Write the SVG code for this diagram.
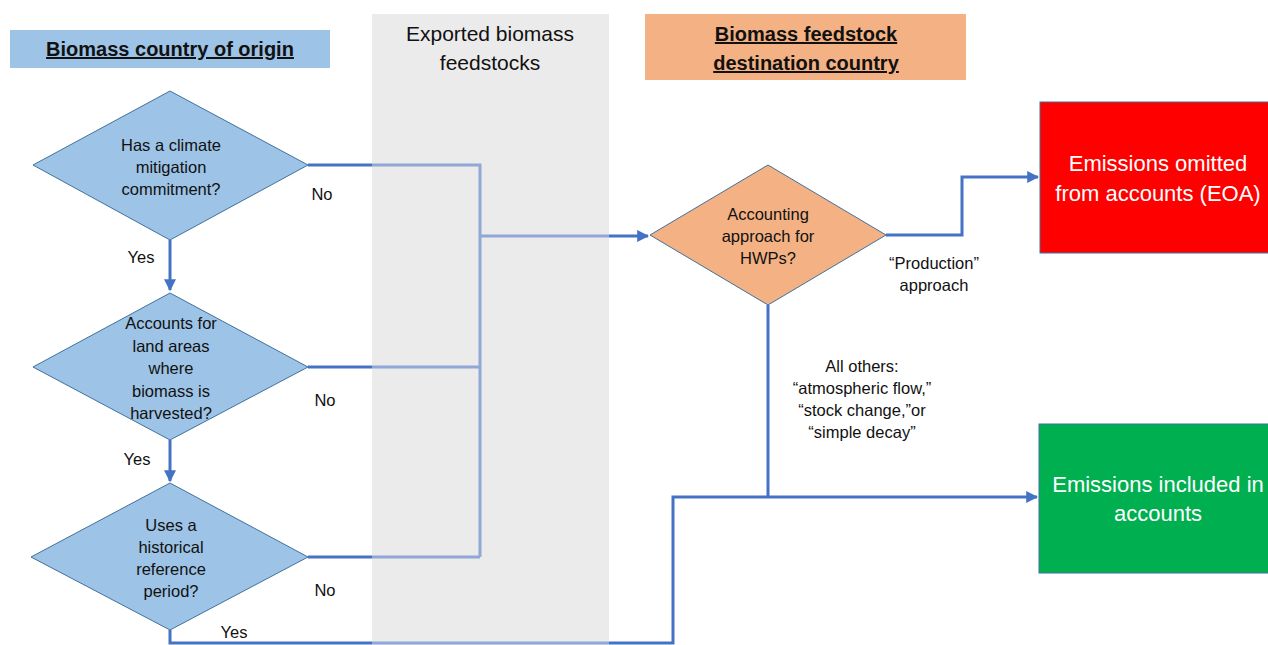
<svg xmlns="http://www.w3.org/2000/svg" width="1268" height="645" viewBox="0 0 1268 645">
<style>
text{font-family:"Liberation Sans",Arial,sans-serif;fill:#111;text-anchor:middle}
.hd{font-size:20px;font-weight:bold;text-decoration:underline}
.band{font-size:21px}
.q{font-size:16.5px}
.lbl{font-size:16.5px}
.box{font-size:22px;fill:#fff}
.dia{fill:#9DC3E6;stroke:#41719C;stroke-width:1}
.dia2{fill:#F4B183;stroke:#41719C;stroke-width:1}
.conn{fill:none;stroke:#4472C4;stroke-width:3}
</style>
<defs>
<marker id="ah" viewBox="0 0 10 10" refX="9" refY="5" markerWidth="4" markerHeight="4" orient="auto" markerUnits="strokeWidth">
<path d="M0,0 L10,5 L0,10 z" fill="#4472C4"/>
</marker>
</defs>
<rect width="1268" height="645" fill="#fff"/>
<rect id="band-bg" x="372" y="14" width="237" height="631" fill="#EBEBEB"/>
<g id="connectors">
<path class="conn" d="M308,165 H480 V557"/>
<path class="conn" d="M308,367 H480"/>
<path class="conn" d="M308,557 H480"/>
<path class="conn" d="M480,236 H648" marker-end="url(#ah)"/>
<path class="conn" d="M170,240 V290" marker-end="url(#ah)"/>
<path class="conn" d="M170,440 V481" marker-end="url(#ah)"/>
<path class="conn" d="M170,630 V643 H673 V497 H1037" marker-end="url(#ah)"/>
<path class="conn" d="M886,235 H962 V177 H1038" marker-end="url(#ah)"/>
<path class="conn" d="M768,305 V497"/>
</g>
<rect id="band-overlay" x="372" y="14" width="237" height="631" fill="#EBEBEB" fill-opacity="0.45"/>
<g id="band-title">
<text class="band" x="490" y="41">Exported biomass</text>
<text class="band" x="490" y="70">feedstocks</text>
</g>
<g id="header-origin">
<rect x="10" y="30" width="320" height="38" fill="#9DC3E6"/>
<text class="hd" x="170" y="56">Biomass country of origin</text>
</g>
<g id="header-destination">
<rect x="645" y="14" width="321" height="66" fill="#F4B183"/>
<text class="hd" x="806" y="41">Biomass feedstock</text>
<text class="hd" x="806" y="70">destination country</text>
</g>
<g id="q1">
<polygon class="dia" points="170,91 308,165 170,240 33,165"/>
<text class="q" x="171" y="151">Has a climate</text>
<text class="q" x="171" y="173">mitigation</text>
<text class="q" x="171" y="195">commitment?</text>
</g>
<g id="q2">
<polygon class="dia" points="170,293 308,367 170,440 33,367"/>
<text class="q" x="171" y="329">Accounts for</text>
<text class="q" x="171" y="352">land areas</text>
<text class="q" x="171" y="374">where</text>
<text class="q" x="171" y="397">biomass is</text>
<text class="q" x="171" y="419">harvested?</text>
</g>
<g id="q3">
<polygon class="dia" points="170,483 308,557 170,630 31,557"/>
<text class="q" x="171" y="531">Uses a</text>
<text class="q" x="171" y="553">historical</text>
<text class="q" x="171" y="575">reference</text>
<text class="q" x="171" y="597">period?</text>
</g>
<g id="q4">
<polygon class="dia2" points="768,165 886,235 768,305 650,235"/>
<text class="q" x="768" y="220">Accounting</text>
<text class="q" x="768" y="242">approach for</text>
<text class="q" x="768" y="264">HWPs?</text>
</g>
<g id="eoa">
<rect x="1040" y="102" width="232" height="151" fill="#FF0000" stroke="#41719C" stroke-width="1"/>
<text class="box" x="1158" y="171">Emissions omitted</text>
<text class="box" x="1158" y="201">from accounts (EOA)</text>
</g>
<g id="eia">
<rect x="1039" y="424" width="233" height="149" fill="#00B050" stroke="#41719C" stroke-width="1"/>
<text class="box" x="1158" y="492">Emissions included in</text>
<text class="box" x="1158" y="521">accounts</text>
</g>
<g id="labels">
<text class="lbl" x="322" y="200">No</text>
<text class="lbl" x="141" y="263">Yes</text>
<text class="lbl" x="325" y="406">No</text>
<text class="lbl" x="137" y="465">Yes</text>
<text class="lbl" x="325" y="596">No</text>
<text class="lbl" x="234" y="638">Yes</text>
<text class="lbl" x="934" y="269">“Production”</text>
<text class="lbl" x="934" y="291">approach</text>
<text class="lbl" x="862" y="372">All others:</text>
<text class="lbl" x="862" y="394">“atmospheric flow,”</text>
<text class="lbl" x="862" y="416">“stock change,”or</text>
<text class="lbl" x="862" y="438">“simple decay”</text>
</g>
</svg>
